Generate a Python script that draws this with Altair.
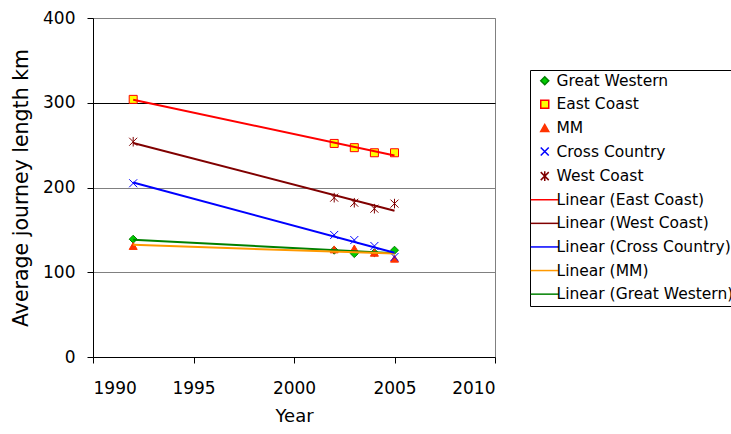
import altair as alt
import pandas as pd

# Average journey length (km) by train operator
years = [1992, 2002, 2003, 2004, 2005]
great_western = [139, 126, 122, 123, 126]
east_coast = [304, 252, 247, 241, 241]
mm = [131, 127, 128, 123, 116]
cross_country = [205, 144, 138, 131, 118]
west_coast = [254, 188, 182, 175, 181]

series_names = ["Great Western", "East Coast", "MM", "Cross Country", "West Coast"]
series_values = [great_western, east_coast, mm, cross_country, west_coast]

trend_order = ["East Coast", "West Coast", "Cross Country", "MM", "Great Western"]
trend_labels = ["Linear (" + s + ")" for s in trend_order]
legend_domain = series_names + trend_labels

# marker styles for the point series, then the trend-line entries
x_path = "M-1,-1L1,1M-1,1L1,-1"
star_path = "M-1,-1L1,1M-1,1L1,-1M0,-1.2L0,1.2"
line_path = "M-3.5,0L3.5,0"
shape_range = ["diamond", "square", "triangle-up", x_path, star_path] + [line_path] * 5
fill_range = ["#00cc00", "#ffff00", "#ff3300", "#0000ff", "#800000"] + ["transparent"] * 5
stroke_range = ["#008000", "#ff0000", "#ff3300", "#0000ff", "#800000",
                "#ff0000", "#800000", "#0000ff", "#ff9900", "#008000"]

rows = []
for name, vals in zip(series_names, series_values):
    for y, v in zip(years, vals):
        rows.append({"series": name, "label": name, "year": y, "value": v})
df = pd.DataFrame(rows)

FONT = "DejaVu Sans"

x_enc = alt.X(
    "year:Q",
    title="Year",
    scale=alt.Scale(domain=[1990, 2010], nice=False, zero=False),
    axis=alt.Axis(values=[1990, 1995, 2000, 2005, 2010], format="d", grid=False,
                  domainColor="black", tickColor="black", tickSize=6,
                  labelPadding=17, titlePadding=11, titleFontSize=18),
)
y_enc = alt.Y(
    "value:Q",
    title="Average journey length km",
    scale=alt.Scale(domain=[0, 400], nice=False),
    axis=alt.Axis(values=[0, 100, 200, 300, 400], grid=True,
                  gridColor={"condition": {"test": "datum.value === 300", "value": "#000000"},
                             "value": "#808080"},
                  domainColor="black", tickColor="black", tickSize=6,
                  labelPadding=12, titlePadding=11, titleFontSize=20.5),
)

legend = alt.Legend(
    orient="none", legendX=437, legendY=52,
    strokeColor="black", fillColor="white", padding=3,
    symbolOffset=4, symbolSize=64, symbolStrokeWidth=1.5,
    labelFont=FONT, labelFontSize=15.5, labelColor="black", labelLimit=400,
    labelOffset=4, rowPadding=6.6,
)

shared = dict(domain=legend_domain)

points = alt.Chart(df).mark_point(size=64, strokeWidth=1, opacity=1, filled=False).encode(
    x=x_enc,
    y=y_enc,
    shape=alt.Shape("label:N", title=None, scale=alt.Scale(range=shape_range, **shared), legend=legend),
    fill=alt.Fill("label:N", title=None, scale=alt.Scale(range=fill_range, **shared), legend=legend),
    stroke=alt.Stroke("label:N", title=None, scale=alt.Scale(range=stroke_range, **shared), legend=legend),
)

trends = (
    alt.Chart(df)
    .transform_regression("year", "value", groupby=["series"], method="linear", extent=[1992, 2005])
    .transform_calculate(label="'Linear (' + datum.series + ')'")
    .mark_line(strokeWidth=2)
    .encode(
        x="year:Q",
        y="value:Q",
        stroke=alt.Stroke("label:N", title=None, scale=alt.Scale(range=stroke_range, **shared), legend=legend),
        detail="series:N",
    )
)

chart = (
    alt.layer(points, trends)
    .properties(width=402, height=339,
                autosize=alt.AutoSizeParams(type="none"),
                padding={"left": 93, "top": 18, "right": 236, "bottom": 77},
                background="white")
    .configure_view(stroke="#808080", strokeWidth=1)
    .configure_axis(labelFont=FONT, labelFontSize=17, labelColor="black",
                    titleFont=FONT, titleFontWeight="normal", titleColor="black")
)

chart.save("out.html", embed_options={"renderer": "svg", "actions": False})
